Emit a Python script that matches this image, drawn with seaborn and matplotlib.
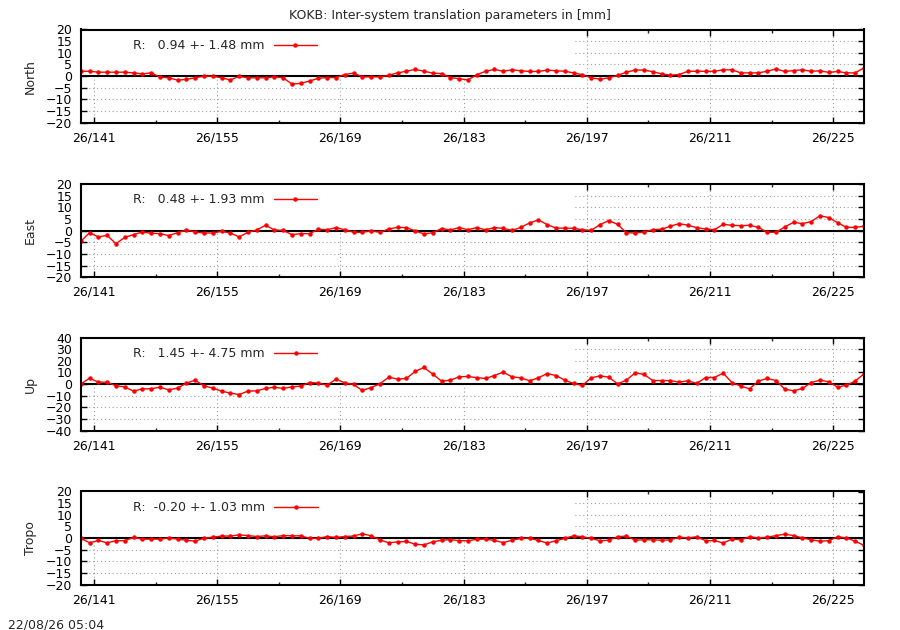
import numpy as np
import pandas as pd
import matplotlib
matplotlib.use("Agg")
import matplotlib.pyplot as plt
import seaborn as sns
from matplotlib.patches import Rectangle
from matplotlib.ticker import MultipleLocator, FuncFormatter

# ---------------- data (mm) ----------------
YEAR = "26"
days = np.arange(139.5, 229.0, 1.0)   # daily solutions, doy 139.5 ... 228.5

north = [2.1, 2.1, 1.7, 1.7, 1.7, 1.7, 1.4, 1.0, 1.4, -0.4,
         -0.7, -1.7, -1.4, -0.7, 0.0, 0.0, -0.7, -1.6, -0.1, -0.7,
         -0.7, -0.7, -0.3, -0.7, -3.4, -3.1, -2.1, -0.9, -0.6, -0.6,
         0.7, 1.3, -0.3, -0.3, -0.3, 0.4, 1.4, 2.1, 2.9, 2.1,
         1.3, 1.1, -0.6, -1.1, -1.6, 0.6,
         2.1, 2.9, 2.1, 2.7, 2.3, 2.0, 2.0, 2.6, 2.3, 2.1,
         1.4, 0.6, -0.7, -1.3, -0.7, 0.3, 1.7, 2.6, 2.6, 1.9,
         1.0, 0.4, 0.7, 2.1, 2.1, 2.1, 2.1, 2.7, 2.7, 1.4,
         1.4, 1.4, 2.1, 3.1, 2.0, 2.4, 2.7, 2.1, 2.3, 1.6,
         2.0, 1.4, 1.4, 3.6]

east = [-4.6, -0.9, -2.7, -2.0, -5.6, -2.9, -1.7, -0.6, -1.1, -1.3,
        -2.1, -0.9, 0.3, -0.6, -1.0, -1.0, -0.3, -1.0, -2.7, -0.7,
        0.3, 2.3, 0.3, 0.1, -1.7, -1.3, -1.3, 0.6, 0.4, 1.3,
        0.4, -0.7, -0.7, -0.1, -0.7, 0.7, 1.4, 1.3, -0.1, -1.4,
        -0.9, 0.9, 0.3, 1.3, 0.4, 1.3,
        0.4, 1.3, 1.0, 0.1, 1.4, 3.3, 4.6, 2.6, 1.1, 1.1,
        1.0, 0.4, 0.1, 2.6, 4.3, 2.7, -0.9, -1.0, -0.6, 0.4,
        0.6, 1.9, 3.0, 2.3, 1.3, 0.7, 0.4, 2.7, 2.3, 2.1,
        2.3, 1.4, -0.7, -0.7, 1.6, 3.6, 3.0, 3.9, 6.4, 5.6,
        3.4, 1.4, 1.4, 1.9]

up = [0.0, 5.1, 1.7, 1.7, -1.4, -2.3, -6.0, -4.0, -4.0, -2.6,
      -4.9, -3.4, 0.9, 3.4, -1.4, -3.4, -6.0, -7.7, -8.9, -6.0,
      -5.7, -3.7, -2.6, -3.7, -2.3, -1.7, 1.4, 0.9, -0.9, 4.3,
      1.1, -0.3, -5.4, -2.9, 0.3, 6.0, 4.3, 4.9, 10.9, 14.3,
      8.6, 2.6, 3.4, 6.3, 6.6, 5.5,
      4.9, 7.4, 10.3, 6.3, 5.4, 2.9, 5.4, 9.1, 7.4, 3.4,
      0.6, -1.1, 5.4, 7.1, 6.0, 0.3, 3.4, 9.7, 8.3, 3.1,
      3.1, 3.1, 1.7, 2.9, 0.6, 5.7, 5.7, 9.4, 1.4, -1.7,
      -4.0, 2.6, 4.9, 3.1, -4.3, -5.7, -3.7, 1.4, 3.4, 2.0,
      -2.6, -0.9, 2.6, 8.9]

tropo = [0.0, -2.0, -1.0, -2.0, -1.1, -1.1, 0.3, -0.4, -0.4, -0.4,
         0.1, -0.4, -0.9, -1.3, 0.0, 0.4, 0.9, 0.9, 1.4, 1.1,
         0.7, 1.0, 0.6, 1.1, 1.0, 1.0, -0.1, -0.1, 0.7, 0.3,
         0.7, 0.9, 1.9, 1.0, -0.7, -2.0, -1.6, -1.4, -2.6, -2.9,
         -1.6, -0.9, -0.6, -1.1, -1.1, -0.5,
         -0.4, -1.0, -1.9, -0.9, -0.1, 0.0, -1.0, -2.1, -1.1, -0.1,
         1.0, 0.6, -0.1, -1.1, -0.9, 0.6, 0.9, -0.9, -0.7, -0.7,
         -0.9, -0.7, 0.4, 0.1, 0.6, -1.1, -1.0, -2.1, -0.4, -0.7,
         0.6, 0.1, 0.4, 1.1, 1.7, 1.1, 0.1, -0.7, -1.3, -1.1,
         0.6, 0.1, -1.3, -3.1]

components = ["North", "East", "Up", "Tropo"]
means = [0.94, 0.48, 1.45, -0.20]
sigmas = [1.48, 1.93, 4.75, 1.03]
y_limits = [20, 20, 40, 20]
y_steps = [5, 5, 10, 5]

df = pd.DataFrame({"day": days, "North": north, "East": east,
                   "Up": up, "Tropo": tropo})

# ---------------- style ----------------
sns.set_theme(style="ticks")
plt.rcParams["font.family"] = ["DejaVu Sans"]
plt.rcParams["font.size"] = 9

W, H = 900, 630
fig = plt.figure(figsize=(9, 6.3), dpi=100)

ax_left, ax_right = 80.7, 864.0
ax_tops = [29.5, 184.0, 337.5, 491.5]
ax_h = 93.3
key_box_right = 573.0   # the opaque key box hides the grid up to here

GRID_KW = dict(color="#a0a0a0", linestyle=(0, (1, 2.5)), linewidth=0.8, zorder=0.5)

for comp, top, m, s, ylim, ystep in zip(components, ax_tops, means, sigmas,
                                        y_limits, y_steps):
    ax = fig.add_axes([ax_left / W, 1 - (top + ax_h) / H,
                       (ax_right - ax_left) / W, ax_h / H])

    sns.lineplot(data=df, x="day", y=comp, ax=ax, color="red", linewidth=1.0,
                 marker="o", markersize=3.2, markeredgewidth=0,
                 label=f"R: {m:6.2f} +- {s:.2f} mm", zorder=2)

    ax.set_xlim(139.5, 228.5)
    ax.set_ylim(-ylim, ylim)
    yt = np.arange(-ylim, ylim + 1, ystep)
    ax.set_yticks(yt)
    ax.xaxis.set_major_locator(MultipleLocator(14, offset=1))
    ax.xaxis.set_minor_locator(MultipleLocator(7, offset=1))
    ax.xaxis.set_major_formatter(FuncFormatter(lambda v, p: f"{YEAR}/{v:.0f}"))

    # dotted grid (drawn by hand so the key box can sit between grid and ticks)
    for y in yt[1:-1]:
        ax.axhline(y, **GRID_KW)
    for x in ax.get_xticks():
        if 139.5 < x < 228.5:
            ax.axvline(x, **GRID_KW)
    ax.add_patch(Rectangle((0, 0), (key_box_right - ax_left) / (ax_right - ax_left),
                           ylim, transform=ax.get_yaxis_transform(),
                           facecolor="white", edgecolor="none", zorder=0.8))
    ax.axhline(0, color="black", linewidth=1.5, zorder=1.5)

    ax.tick_params(axis="both", which="major", direction="in", length=4.5,
                   width=1, top=True, right=True, labelsize=9, pad=6,
                   colors="black")
    ax.tick_params(axis="x", which="minor", direction="in", length=2.3,
                   width=1, top=True, bottom=True)
    for sp in ax.spines.values():
        sp.set_linewidth(1.5)
        sp.set_color("black")

    ax.set_xlabel("")
    ax.set_ylabel(comp, fontsize=9)
    ax.yaxis.set_label_coords(-(ax_left - 37) / (ax_right - ax_left), 0.5)

    ax.legend(loc="center left", bbox_to_anchor=((133.3 - ax_left) / (ax_right - ax_left), 0.829),
              markerfirst=False, frameon=False, fontsize=9, handlelength=3.5,
              handletextpad=0.7, borderpad=0, borderaxespad=0)

fig.text(0.5, 1 - 19 / H, "KOKB: Inter-system translation parameters in [mm]",
         ha="center", va="baseline", fontsize=9)
fig.text(8 / W, 1 - 628.3 / H, "22/08/26 05:04", ha="left", va="baseline",
         fontsize=9)

fig.savefig("out.png", dpi=100)
